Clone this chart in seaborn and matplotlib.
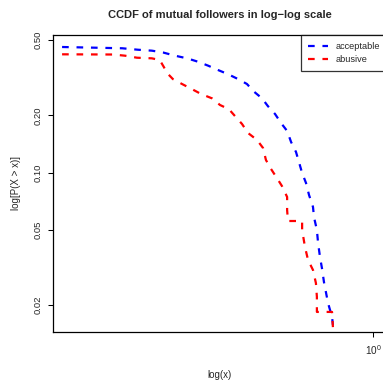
import pandas as pd
import seaborn as sns
import matplotlib.pyplot as plt

# CCDF (x in log scale, y = P(X > x))
acc_x = [0.167, 0.236, 0.2585, 0.280, 0.2985, 0.320, 0.343, 0.365, 0.387, 0.410,
         0.434, 0.460, 0.484, 0.504, 0.528, 0.546, 0.569, 0.589, 0.610, 0.624,
         0.642, 0.653, 0.665, 0.680, 0.692, 0.708, 0.712, 0.724, 0.729, 0.737,
         0.746, 0.754, 0.772, 0.790, 0.794]
acc_y = [0.459, 0.452, 0.444, 0.439, 0.4295, 0.413, 0.400, 0.384, 0.366, 0.347,
         0.330, 0.311, 0.293, 0.267, 0.246, 0.224, 0.2035, 0.1824, 0.1656, 0.1449,
         0.1283, 0.1136, 0.0994, 0.0881, 0.0761, 0.0658, 0.0582, 0.0498, 0.0425, 0.0359,
         0.0310, 0.0265, 0.0205, 0.0173, 0.0157]

abu_x = [0.167, 0.224, 0.240, 0.257, 0.280, 0.293, 0.300, 0.3055, 0.316, 0.333,
         0.353, 0.3715, 0.396, 0.4145, 0.4365, 0.4545, 0.4705, 0.487, 0.513, 0.531,
         0.540, 0.556, 0.575, 0.592, 0.610, 0.610, 0.613, 0.665, 0.665, 0.676,
         0.688, 0.708, 0.720, 0.724, 0.724, 0.790, 0.794]
abu_y = [0.420, 0.419, 0.413, 0.403, 0.400, 0.392, 0.360, 0.335, 0.311, 0.293,
         0.275, 0.2596, 0.246, 0.227, 0.2156, 0.1956, 0.1803, 0.1616, 0.1484, 0.1347,
         0.1164, 0.1044, 0.0936, 0.0849, 0.0743, 0.0634, 0.0555, 0.0555, 0.0498, 0.0405,
         0.0346, 0.0306, 0.0261, 0.0221, 0.0184, 0.0184, 0.0153]

groups = ['acceptable', 'abusive']
colors = {'acceptable': '#0000FF', 'abusive': '#FF0000'}
yticks = [0.02, 0.05, 0.10, 0.20, 0.50]
ytick_labels = ['0.02', '0.05', '0.10', '0.20', '0.50']

df = pd.concat([
    pd.DataFrame({'x': acc_x, 'y': acc_y, 'group': 'acceptable'}),
    pd.DataFrame({'x': abu_x, 'y': abu_y, 'group': 'abusive'}),
], ignore_index=True)

sns.set_style('ticks')
plt.rcParams['font.family'] = ['Liberation Sans', 'DejaVu Sans']
plt.rcParams['mathtext.default'] = 'regular'

fig = plt.figure(figsize=(3.83, 3.80), dpi=100)
ax = fig.add_axes([53 / 383, 48 / 380, (387 - 53) / 383, (332 - 35) / 380])

sns.lineplot(data=df, x='x', y='y', hue='group', style='group', hue_order=groups,
             style_order=groups, palette=colors,
             dashes={'acceptable': (3, 3.5), 'abusive': (3, 3.5)},
             sort=False, estimator=None, linewidth=1.6, legend=False, ax=ax)

ax.set_xscale('log')
ax.set_yscale('log')
ax.set_xlim(0.1585, 1.084)
ax.set_ylim(0.01442, 0.531)

ax.set_xticks([1])
ax.set_xticklabels(['$10^0$'], fontsize=7.2)
ax.set_xticks([], minor=True)
ax.set_yticks(yticks)
ax.set_yticklabels(ytick_labels, rotation=90, va='center', fontsize=6.8)
ax.set_yticks([], minor=True)
ax.tick_params(axis='both', length=3.6, width=0.75, color='black')
ax.tick_params(axis='y', pad=4.2)
ax.tick_params(axis='x', pad=4.5)

for s in ax.spines.values():
    s.set_visible(True)
    s.set_color('black')
    s.set_linewidth(0.9)

ax.set_xlabel('log(x)', fontsize=7, labelpad=9)
ax.set_ylabel('log[P(X > x)]', fontsize=7, labelpad=9)
ax.set_title('CCDF of mutual followers in log\u2212log scale', fontsize=8,
             fontweight='bold', pad=12)

leg = ax.legend(ax.get_lines(), groups, loc='upper right', bbox_to_anchor=(1, 1),
                borderaxespad=0, fontsize=6.6, frameon=True, fancybox=False,
                handlelength=2.2, handletextpad=0.8, labelspacing=0.42,
                borderpad=0.75)
leg.get_frame().set_edgecolor('black')
leg.get_frame().set_linewidth(0.9)

plt.savefig('out.png', dpi=100)
